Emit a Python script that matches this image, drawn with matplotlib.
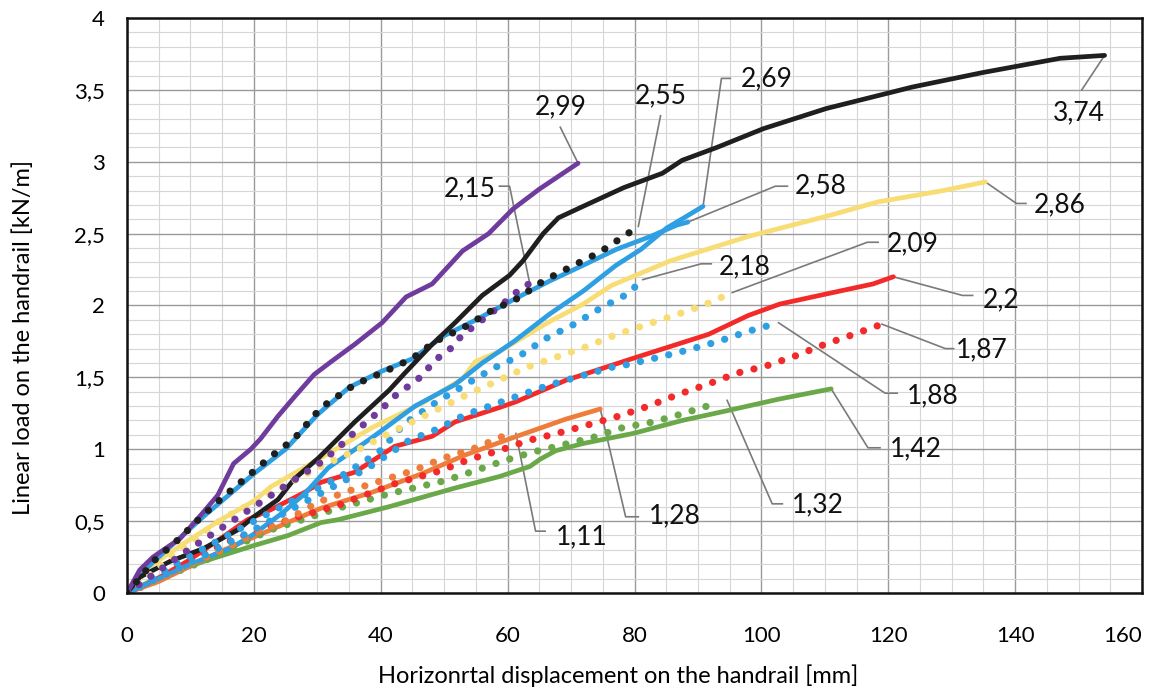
import matplotlib
matplotlib.use("Agg")
import matplotlib.pyplot as plt
from matplotlib.ticker import MultipleLocator, FuncFormatter

plt.rcParams['font.family'] = ['Lato', 'DejaVu Sans']

# ---- data (x = displacement [mm], y = load [kN/m]) ----
x_ticks = [0, 20, 40, 60, 80, 100, 120, 140, 160]

purple_x = [0, 2, 4.1, 8.4, 11.6, 14.3, 16.8, 19.5, 21, 23.8, 26.5, 29.5, 32.2, 35.9, 40.2, 44, 48.1, 52.9, 57, 60.8, 65, 71.1]
purple_y = [0, 0.16, 0.25, 0.38, 0.54, 0.68, 0.90, 1.00, 1.07, 1.23, 1.37, 1.52, 1.61, 1.73, 1.88, 2.06, 2.15, 2.38, 2.50, 2.67, 2.81, 2.99]

purple_dot_x = [0, 10, 20, 30.6, 33.3, 35.9, 38.6, 40.6, 42.2, 44.4, 46.5, 47.6, 49.4, 51.3, 52.9, 54.9, 56.8, 58.7, 60.5, 62.7, 63.5]
purple_dot_y = [0, 0.31, 0.60, 0.91, 1.01, 1.12, 1.22, 1.30, 1.37, 1.44, 1.51, 1.57, 1.65, 1.71, 1.80, 1.86, 1.93, 1.99, 2.06, 2.14, 2.15]

black_x = [0, 2, 6.8, 12.1, 17.5, 20, 23.8, 26.3, 30.2, 35.9, 41.3, 43.8, 48.1, 51.7, 56, 60.3, 62.4, 65.6, 68, 71.9,
           78.3, 84.4, 87.5, 93, 100.3, 110.2, 123.8, 134.8, 147.1, 154.1]
black_y = [0, 0.11, 0.22, 0.31, 0.44, 0.53, 0.65, 0.79, 0.94, 1.19, 1.41, 1.53, 1.73, 1.88, 2.07, 2.21, 2.31, 2.50, 2.61, 2.69,
           2.82, 2.92, 3.01, 3.10, 3.23, 3.37, 3.52, 3.62, 3.72, 3.74]

black_dot_x = [0, 4.4, 8.3, 11.7, 15.2, 19, 22.7, 26.3, 30.6, 35.9, 40.6, 44.9, 48.6, 53.2, 57.3, 61.6, 65.6, 70, 74.5, 78.6, 80.6]
black_dot_y = [0, 0.23, 0.38, 0.53, 0.67, 0.81, 0.95, 1.07, 1.29, 1.45, 1.54, 1.63, 1.75, 1.85, 1.96, 2.05, 2.17, 2.27, 2.37, 2.49, 2.55]

cyan_a_x = [0, 3, 8, 12, 16, 20, 25, 30, 35, 40, 45, 50, 55, 61.3, 66.6, 71.9, 77.1, 82.5, 86.7, 88.4]
cyan_a_y = [0, 0.17, 0.37, 0.53, 0.68, 0.83, 1.00, 1.24, 1.43, 1.54, 1.63, 1.79, 1.90, 2.05, 2.17, 2.28, 2.39, 2.48, 2.56, 2.58]

cyan_b_x = [0, 5, 10, 16.3, 20, 24.3, 28, 31.7, 38.6, 45.4, 51.7, 56, 61, 66.6, 71.9, 77.1, 81, 85.1, 87.8, 90.8]
cyan_b_y = [0, 0.10, 0.20, 0.31, 0.41, 0.55, 0.69, 0.87, 1.08, 1.30, 1.45, 1.60, 1.75, 1.94, 2.10, 2.28, 2.39, 2.54, 2.61, 2.69]

cyan_dot_a_x = [0, 8, 17.5, 24.3, 33.3, 39.7, 43.8, 49.2, 53.4, 57.6, 61.9, 66, 70.5, 74.6, 78.9, 81.3]
cyan_dot_a_y = [0, 0.21, 0.44, 0.60, 0.80, 0.98, 1.18, 1.34, 1.45, 1.56, 1.65, 1.77, 1.87, 1.98, 2.08, 2.18]

cyan_dot_b_x = [0, 10, 20, 30, 38, 44.4, 48.9, 53.3, 57.8, 62.2, 66.8, 71.6, 76.4, 79, 83.8, 88.4, 93.2, 97.9, 102.7]
cyan_dot_b_y = [0, 0.21, 0.44, 0.68, 0.87, 1.06, 1.14, 1.24, 1.31, 1.38, 1.45, 1.51, 1.57, 1.59, 1.64, 1.69, 1.75, 1.82, 1.88]

yellow_x = [0, 4.1, 9.5, 14.8, 20, 22.7, 30.6, 38.6, 46.5, 52.9, 54.9, 58.7, 64, 67.1, 71.9, 76.4, 85.6, 97.9, 110.2, 118.3, 128.7, 135.3]
yellow_y = [0, 0.20, 0.36, 0.51, 0.64, 0.74, 0.94, 1.15, 1.32, 1.49, 1.61, 1.68, 1.82, 1.90, 2.01, 2.14, 2.31, 2.48, 2.62, 2.72, 2.80, 2.86]

yellow_dot_x = [0, 8, 15.2, 23.8, 30, 37, 41.3, 45.4, 49.5, 54.1, 58.6, 63, 67.6, 72.2, 76.7, 81.4, 86.2, 90.8, 95.4]
yellow_dot_y = [0, 0.29, 0.52, 0.72, 0.87, 1.01, 1.11, 1.20, 1.29, 1.39, 1.48, 1.57, 1.64, 1.71, 1.79, 1.86, 1.93, 2.00, 2.09]

red_x = [0, 4, 9.5, 14.8, 19, 22.7, 28, 30.6, 35.9, 42.2, 48.1, 51.7, 58.7, 61.3, 69.2, 79.6, 91.7, 97.9, 102.9, 110.2, 117.6, 120.8]
red_y = [0, 0.08, 0.22, 0.38, 0.51, 0.58, 0.70, 0.77, 0.84, 1.02, 1.09, 1.19, 1.29, 1.33, 1.48, 1.63, 1.80, 1.93, 2.01, 2.08, 2.15, 2.20]

red_dot_x = [0, 4.1, 8.4, 12.9, 17.1, 21.7, 26.2, 33.3, 42.2, 49.4, 54, 58.6, 63.2, 67.8, 72.7, 77.5, 82.2, 86.8, 91.4,
             96.2, 100.8, 105.4, 110, 114.6, 119]
red_dot_y = [0, 0.08, 0.21, 0.29, 0.38, 0.45, 0.52, 0.61, 0.76, 0.85, 0.93, 0.99, 1.06, 1.11, 1.17, 1.23, 1.30, 1.38, 1.45,
             1.53, 1.58, 1.65, 1.73, 1.80, 1.87]

orange_x = [0, 5, 14.8, 22.7, 30.6, 38.6, 46.5, 53.3, 60.8, 69.2, 74.6]
orange_y = [0, 0.08, 0.29, 0.44, 0.59, 0.70, 0.83, 0.96, 1.08, 1.21, 1.28]

orange_dot_x = [0, 5, 10, 15, 20, 25, 30, 35, 40, 45, 50, 55, 60.3]
orange_dot_y = [0, 0.09, 0.20, 0.30, 0.41, 0.50, 0.63, 0.71, 0.78, 0.85, 0.94, 1.01, 1.11]

green_x = [0, 4.1, 12.1, 20, 25.4, 30.6, 33.3, 41.3, 51.7, 58.7, 63.5, 65.1, 67.6, 71.9, 79.8, 87.5, 94.8, 102.9, 111]
green_y = [0, 0.09, 0.22, 0.33, 0.40, 0.49, 0.51, 0.60, 0.73, 0.81, 0.88, 0.93, 0.99, 1.04, 1.11, 1.20, 1.27, 1.35, 1.42]

green_dot_x = [0, 4, 12, 22.7, 33.3, 41.3, 50, 54.8, 59.4, 64, 68.6, 73.3, 78.1, 83, 87.8, 92.9]
green_dot_y = [0, 0.08, 0.22, 0.44, 0.59, 0.69, 0.78, 0.85, 0.92, 0.98, 1.03, 1.08, 1.15, 1.19, 1.25, 1.32]

# end labels: text, leader path (x list, y list), text anchor, alignment
label_texts = ["2,99", "2,15", "2,55", "2,69", "3,74", "2,58", "2,86", "2,18",
               "2,09", "2,2", "1,87", "1,88", "1,42", "1,32", "1,28", "1,11"]
leader_x = [[71.1, 68.3], [63.5, 60.3, 58.7], [80.6, 84.1], [90.8, 93.7, 95.1], [154.1, 150.5],
            [88.4, 102.2, 104.1], [135.3, 140.2, 141.7], [81.3, 90.5, 92.1], [95.4, 116.7, 118.4],
            [120.8, 131.7, 133.3], [119, 129, 130.3], [102.7, 119.5, 121.4], [111, 116.8, 118.7],
            [94.6, 101.7, 103.3], [74.6, 78.6, 80.6], [61.3, 64.4, 65.9]]
leader_y = [[2.99, 3.24], [2.15, 2.83, 2.83], [2.55, 3.32], [2.69, 3.58, 3.58], [3.74, 3.50],
            [2.58, 2.83, 2.83], [2.86, 2.71, 2.71], [2.18, 2.29, 2.29], [2.09, 2.44, 2.44],
            [2.20, 2.07, 2.07], [1.87, 1.70, 1.70], [1.88, 1.39, 1.39], [1.42, 1.01, 1.01],
            [1.34, 0.62, 0.62], [1.28, 0.53, 0.53], [1.11, 0.43, 0.43]]
text_x = [68.3, 58.1, 84.1, 96.7, 150, 105.2, 143, 93.3, 119.8, 134.9, 130.6, 123, 120.3, 104.8, 82.2, 67.6]
text_y = [3.38, 2.81, 3.46, 3.58, 3.34, 2.83, 2.70, 2.27, 2.43, 2.04, 1.69, 1.37, 1.00, 0.61, 0.54, 0.39]
text_ha = ["center", "right", "center", "left", "center", "left", "left", "left",
           "left", "left", "left", "left", "left", "left", "left", "left"]

fig = plt.figure(figsize=(11.58, 6.99), dpi=100)
ax = fig.add_axes([0.1097, 0.1517, 0.8765, 0.8225])

PURPLE = '#6f3b9c'
BLACK = '#1f1f1f'
CYAN = '#2e9fe2'
YELLOW = '#f8dc74'
RED = '#f32a2a'
ORANGE = '#ee7d3b'
GREEN = '#6aa84a'

solid = dict(lw=3.4, solid_capstyle='round', solid_joinstyle='round')
dots = dict(lw=5.2, linestyle=(0, (0.01, 2.0)), dash_capstyle='round')

ax.plot(green_x, green_y, color=GREEN, **solid)
ax.plot(orange_x, orange_y, color=ORANGE, **solid)
ax.plot(red_x, red_y, color=RED, **solid)
ax.plot(yellow_x, yellow_y, color=YELLOW, **solid)
ax.plot(cyan_b_x, cyan_b_y, color=CYAN, **solid)
ax.plot(cyan_a_x, cyan_a_y, color=CYAN, **solid)
ax.plot(black_x, black_y, color=BLACK, **solid)
ax.plot(purple_x, purple_y, color=PURPLE, **solid)

ax.plot(green_dot_x, green_dot_y, color=GREEN, **dots)
ax.plot(red_dot_x, red_dot_y, color=RED, **dots)
ax.plot(orange_dot_x, orange_dot_y, color=ORANGE, **dots)
ax.plot(cyan_dot_b_x, cyan_dot_b_y, color=CYAN, **dots)
ax.plot(cyan_dot_a_x, cyan_dot_a_y, color=CYAN, **dots)
ax.plot(yellow_dot_x, yellow_dot_y, color=YELLOW, **dots)
ax.plot(purple_dot_x, purple_dot_y, color=PURPLE, **dots)
ax.plot(black_dot_x, black_dot_y, color=BLACK, **dots)

# leader lines + value labels
for i, t in enumerate(label_texts):
    ax.plot(leader_x[i], leader_y[i], color='#7a7a7a', lw=1.2, zorder=1.5)
    ax.text(text_x[i], text_y[i], t, ha=text_ha[i], va='center', fontsize=19, color='#111111')

ax.set_xlim(0, 160)
ax.set_ylim(0, 4)
ax.set_xticks(x_ticks)
ax.xaxis.set_minor_locator(MultipleLocator(5))
ax.yaxis.set_major_locator(MultipleLocator(0.5))
ax.yaxis.set_minor_locator(MultipleLocator(0.1))
ax.yaxis.set_major_formatter(FuncFormatter(lambda v, p: ('%g' % v).replace('.', ',')))

ax.grid(which='major', color='#9a9a9a', lw=1.0)
ax.grid(which='minor', color='#d6d6d6', lw=0.8)
ax.set_axisbelow(True)

ax.tick_params(which='both', length=0)
ax.tick_params(axis='x', pad=24, labelsize=16)
ax.tick_params(axis='y', pad=16, labelsize=16)
for s in ax.spines.values():
    s.set_color('#111111')
    s.set_linewidth(1.8)

# keep the "160" label inside the figure
ax.get_xticklabels()[-1].set_horizontalalignment('right')

ax.set_xlabel('Horizonrtal displacement on the handrail [mm]', fontsize=17)
ax.set_ylabel('Linear load on the handrail [kN/m]', fontsize=17)
ax.xaxis.set_label_coords(0.484, -0.125)
ax.yaxis.set_label_coords(-0.092, 0.445)

fig.savefig('out.png', dpi=100)
